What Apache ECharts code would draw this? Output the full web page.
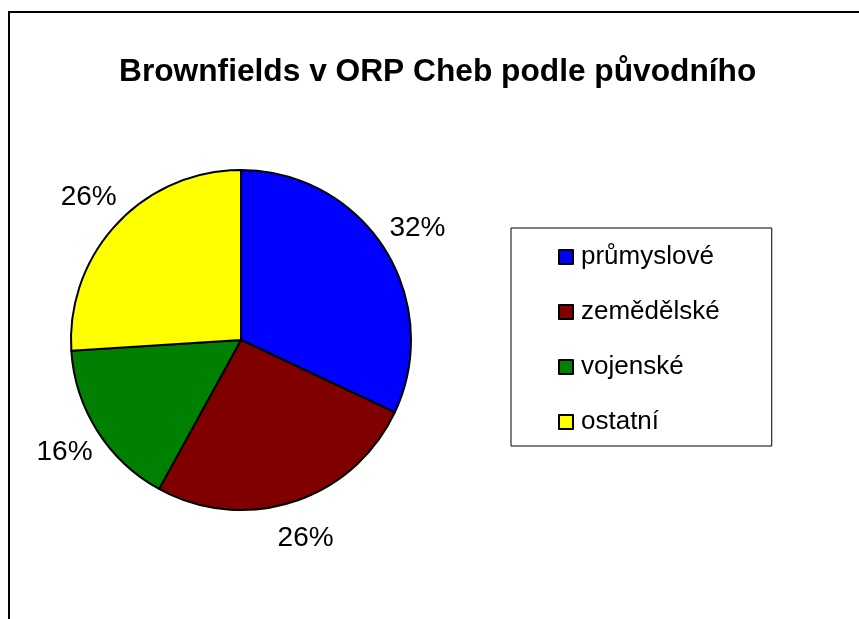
<!DOCTYPE html>
<html>
<head>
<meta charset="utf-8">
<script src="https://cdn.jsdelivr.net/npm/echarts@6/dist/echarts.min.js"></script>
<style>
    html, body { margin: 0; padding: 0; background: #fff; }
    #chart { width: 859px; height: 619px; }
</style>
</head>
<body>
<div id="chart"></div>
<script>
// data (percent shares)
const categories = ["průmyslové", "zemědělské", "vojenské", "ostatní"];
const values = [32, 26, 16, 26];
const colors = ["#0000FF", "#800000", "#008000", "#FFFF00"];

const font = "Liberation Sans, Arial, sans-serif";

const pieData = categories.map((name, i) => ({
    name: name,
    value: values[i],
    itemStyle: { color: colors[i] },
}));

const chart = echarts.init(document.getElementById("chart"));

chart.setOption({
    animation: false,
    backgroundColor: "#fff",
    // outer frame of the chart area (cut at right and bottom)
    graphic: [
        {
            type: "polyline",
            shape: { points: [[9, 640], [9, 12], [880, 12]] },
            style: { stroke: "#000", lineWidth: 2, fill: null },
            silent: true,
        },
    ],
    title: {
        text: "Brownfields v ORP Cheb podle původního",
        left: 119,
        top: 56,
        padding: 0,
        textStyle: {
            fontFamily: font,
            fontSize: 31.7,
            fontWeight: "bold",
            color: "#000",
        },
    },
    legend: {
        orient: "vertical",
        left: 511,
        top: 228,
        padding: [16, 52, 11, 47],
        itemGap: 29,
        itemWidth: 14,
        itemHeight: 14,
        icon: "rect",
        borderColor: "#000",
        borderWidth: 1,
        backgroundColor: "#fff",
        data: categories,
        itemStyle: { borderColor: "#000", borderWidth: 2 },
        textStyle: {
            fontFamily: font,
            fontSize: 26,
            color: "#000",
            padding: [0, 0, 0, 3],
        },
    },
    series: [
        {
            name: "brownfields",
            type: "pie",
            center: [241, 340],
            radius: 170,
            startAngle: 90,
            clockwise: true,
            silent: true,
            avoidLabelOverlap: false,
            itemStyle: { borderColor: "#000", borderWidth: 2 },
            label: { show: false },
            labelLine: { show: false },
            data: pieData,
        },
        {
            // ring of percentage labels around the pie
            name: "labels",
            type: "pie",
            center: [241, 340],
            radius: [188, 224],
            startAngle: 90,
            clockwise: true,
            silent: true,
            avoidLabelOverlap: false,
            percentPrecision: 0,
            itemStyle: { color: "rgba(0,0,0,0)", borderWidth: 0 },
            label: {
                show: true,
                position: "inside",
                formatter: "{d}%",
                fontFamily: font,
                fontSize: 28,
                color: "#000",
            },
            labelLine: { show: false },
            data: categories.map((name, i) => ({ name: name, value: values[i] })),
        },
    ],
});
</script>
</body>
</html>
